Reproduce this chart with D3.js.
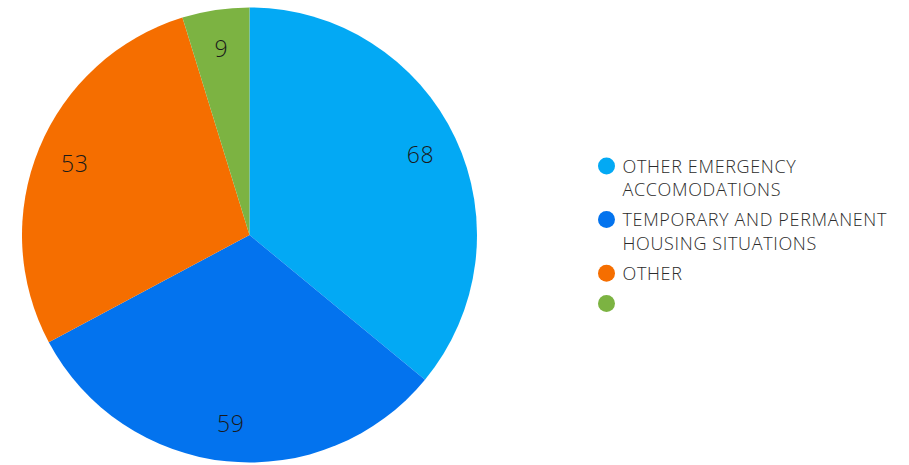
<!DOCTYPE html>
<html>
<head>
<meta charset="utf-8">
<script src="https://cdn.jsdelivr.net/npm/d3@7/dist/d3.min.js"></script>
<style>
  html, body { margin: 0; padding: 0; background: #fff; }
  svg { display: block; }
</style>
</head>
<body>
<svg id="chart" width="909" height="465"></svg>
<script>
const categories = ["OTHER EMERGENCY ACCOMODATIONS", "TEMPORARY AND PERMANENT HOUSING SITUATIONS", "OTHER", ""];
const values = [68, 59, 53, 9];
const colors = ["#03A9F4", "#0373EE", "#F56E00", "#7CB342"];

const W = 909, H = 465;
const cx = 249.5, cy = 235, R = 227.5, labelR = 189;
const svg = d3.select("#chart");

const data = categories.map((c, i) => ({ name: c, value: values[i], color: colors[i] }));
const pie = d3.pie().value(d => d.value).sort(null);
const arcs = pie(data);
const arc = d3.arc().innerRadius(0).outerRadius(R);
const labelArc = d3.arc().innerRadius(labelR).outerRadius(labelR);

const g = svg.append("g").attr("transform", `translate(${cx},${cy})`);
g.selectAll("path.slice").data(arcs).enter().append("path")
  .attr("class", "slice")
  .attr("d", arc)
  .attr("fill", d => d.data.color);

g.selectAll("text.val").data(arcs).enter().append("text")
  .attr("class", "val")
  .attr("transform", d => `translate(${labelArc.centroid(d)})`)
  .attr("text-anchor", "middle")
  .attr("dy", "0.38em")
  .attr("font-family", "'Open Sans', Lato, sans-serif")
  .attr("font-weight", 300)
  .attr("font-size", 23)
  .attr("letter-spacing", 0.5)
  .attr("fill", "#1a1a1a")
  .text(d => d.data.value);

// Legend
const legX = 606.5, legTextX = 622.5, lineH = 23.4, gap = 6.8, maxW = 290;
const fontSize = 18;
const leg = svg.append("g");
let y = 166; // circle center of first item
data.forEach((d, i) => {
  const item = leg.append("g");
  item.append("circle").attr("cx", legX).attr("cy", y).attr("r", 8.5).attr("fill", d.color);
  const t = item.append("text")
    .attr("font-family", "'Open Sans', sans-serif")
    .attr("font-weight", 300)
    .attr("font-size", fontSize)
    .attr("letter-spacing", 0.65)
    .attr("fill", "#2b2b2b");
  // wrap words
  const words = d.name.split(" ").filter(w => w.length);
  let lines = [], cur = "";
  const probe = t.append("tspan");
  words.forEach(w => {
    const test = cur ? cur + " " + w : w;
    probe.text(test);
    if (probe.node().getComputedTextLength() > maxW && cur) { lines.push(cur); cur = w; }
    else cur = test;
  });
  if (cur) lines.push(cur);
  probe.remove();
  lines.forEach((ln, k) => {
    t.append("tspan").attr("x", legTextX).attr("y", y + 6.5 + k * lineH).text(ln);
  });
  const n = Math.max(1, lines.length);
  y += n * lineH + gap;
});
</script>
</body>
</html>
